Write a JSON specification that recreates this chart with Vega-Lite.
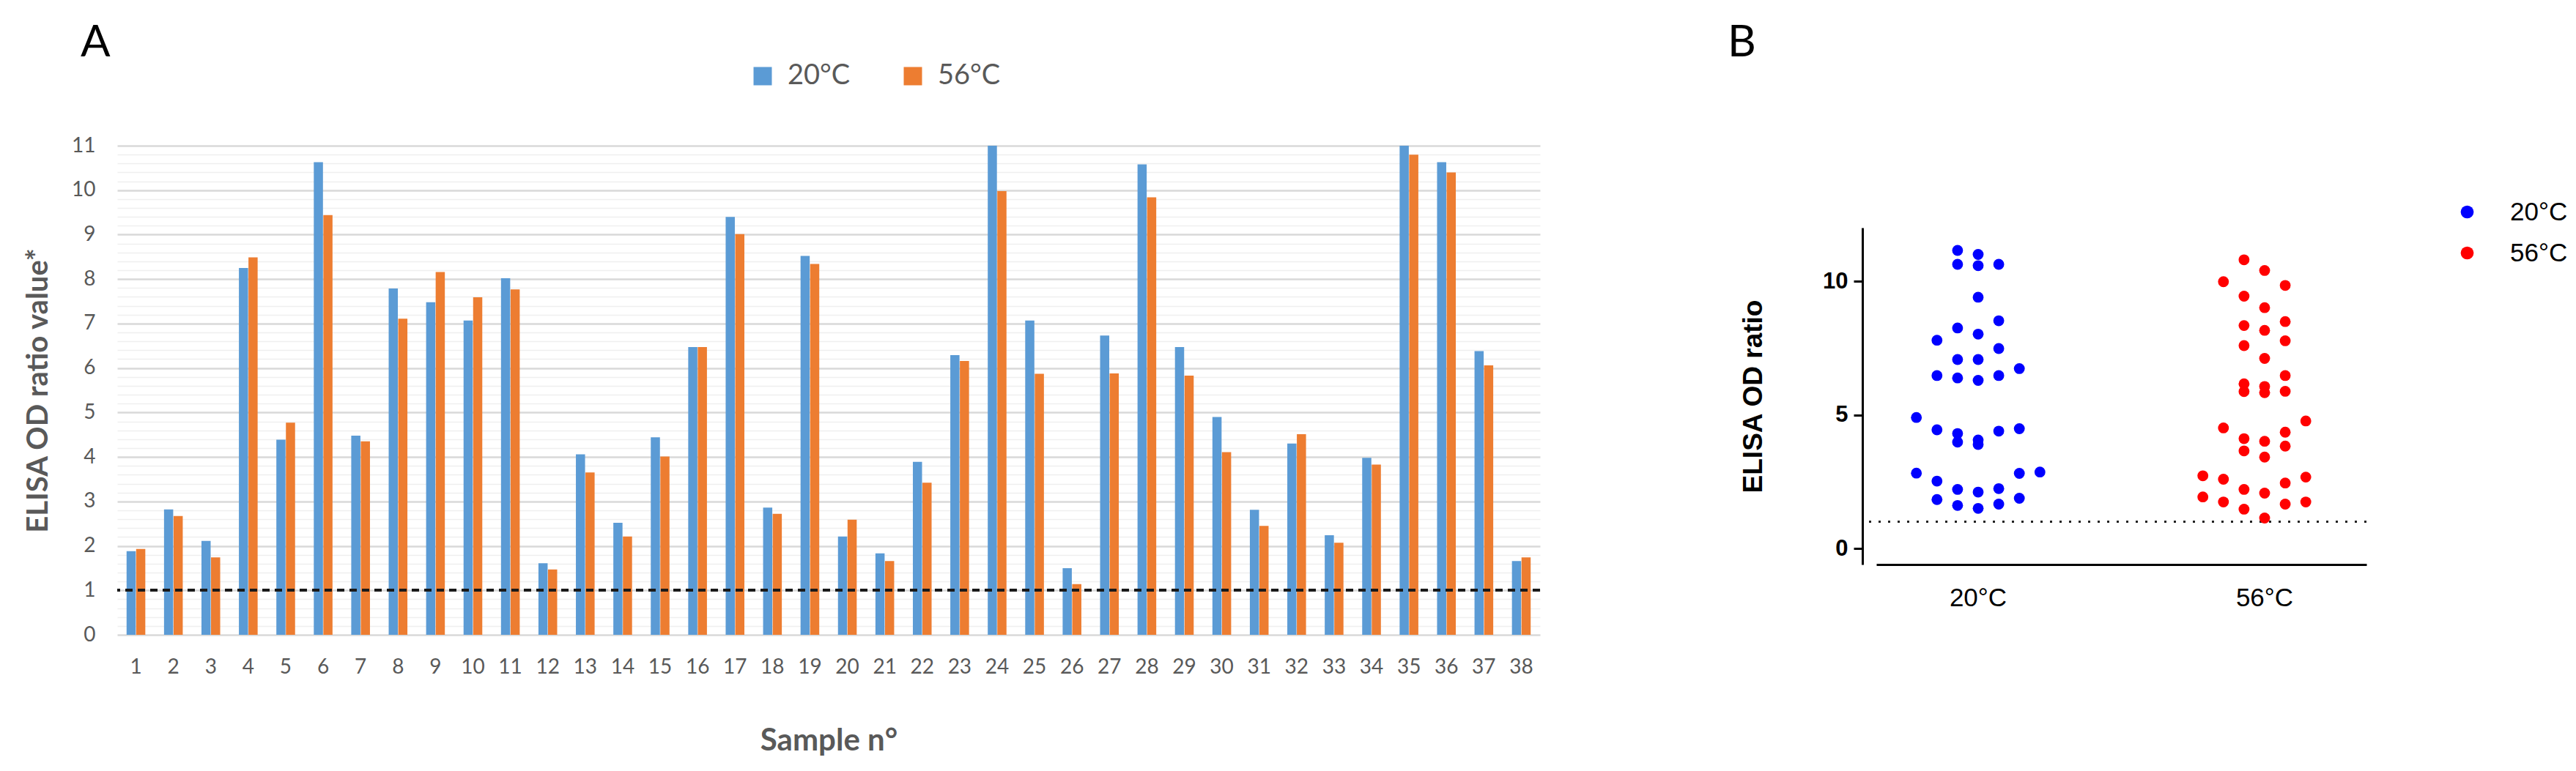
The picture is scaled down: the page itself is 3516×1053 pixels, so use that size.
{
  "$schema": "https://vega.github.io/schema/vega-lite/v6.json",
  "background": "white",
  "padding": {"left": 32, "top": 29, "right": 0, "bottom": 0},
  "spacing": 254,
  "data": {"values": [
    {"sample": 1, "temp": "20°C", "value": 1.88}, {"sample": 1, "temp": "56°C", "value": 1.93},
    {"sample": 2, "temp": "20°C", "value": 2.82}, {"sample": 2, "temp": "56°C", "value": 2.67},
    {"sample": 3, "temp": "20°C", "value": 2.11}, {"sample": 3, "temp": "56°C", "value": 1.74},
    {"sample": 4, "temp": "20°C", "value": 8.25}, {"sample": 4, "temp": "56°C", "value": 8.49},
    {"sample": 5, "temp": "20°C", "value": 4.39}, {"sample": 5, "temp": "56°C", "value": 4.77},
    {"sample": 6, "temp": "20°C", "value": 10.63}, {"sample": 6, "temp": "56°C", "value": 9.44},
    {"sample": 7, "temp": "20°C", "value": 4.48}, {"sample": 7, "temp": "56°C", "value": 4.35},
    {"sample": 8, "temp": "20°C", "value": 7.79}, {"sample": 8, "temp": "56°C", "value": 7.11},
    {"sample": 9, "temp": "20°C", "value": 7.48}, {"sample": 9, "temp": "56°C", "value": 8.16},
    {"sample": 10, "temp": "20°C", "value": 7.07}, {"sample": 10, "temp": "56°C", "value": 7.59},
    {"sample": 11, "temp": "20°C", "value": 8.02}, {"sample": 11, "temp": "56°C", "value": 7.77},
    {"sample": 12, "temp": "20°C", "value": 1.61}, {"sample": 12, "temp": "56°C", "value": 1.47},
    {"sample": 13, "temp": "20°C", "value": 4.06}, {"sample": 13, "temp": "56°C", "value": 3.65},
    {"sample": 14, "temp": "20°C", "value": 2.52}, {"sample": 14, "temp": "56°C", "value": 2.21},
    {"sample": 15, "temp": "20°C", "value": 4.44}, {"sample": 15, "temp": "56°C", "value": 4.01},
    {"sample": 16, "temp": "20°C", "value": 6.47}, {"sample": 16, "temp": "56°C", "value": 6.47},
    {"sample": 17, "temp": "20°C", "value": 9.40}, {"sample": 17, "temp": "56°C", "value": 9.01},
    {"sample": 18, "temp": "20°C", "value": 2.86}, {"sample": 18, "temp": "56°C", "value": 2.72},
    {"sample": 19, "temp": "20°C", "value": 8.52}, {"sample": 19, "temp": "56°C", "value": 8.34},
    {"sample": 20, "temp": "20°C", "value": 2.21}, {"sample": 20, "temp": "56°C", "value": 2.59},
    {"sample": 21, "temp": "20°C", "value": 1.83}, {"sample": 21, "temp": "56°C", "value": 1.66},
    {"sample": 22, "temp": "20°C", "value": 3.89}, {"sample": 22, "temp": "56°C", "value": 3.42},
    {"sample": 23, "temp": "20°C", "value": 6.29}, {"sample": 23, "temp": "56°C", "value": 6.16},
    {"sample": 24, "temp": "20°C", "value": 11.15}, {"sample": 24, "temp": "56°C", "value": 9.98},
    {"sample": 25, "temp": "20°C", "value": 7.07}, {"sample": 25, "temp": "56°C", "value": 5.87},
    {"sample": 26, "temp": "20°C", "value": 1.50}, {"sample": 26, "temp": "56°C", "value": 1.14},
    {"sample": 27, "temp": "20°C", "value": 6.73}, {"sample": 27, "temp": "56°C", "value": 5.88},
    {"sample": 28, "temp": "20°C", "value": 10.58}, {"sample": 28, "temp": "56°C", "value": 9.84},
    {"sample": 29, "temp": "20°C", "value": 6.47}, {"sample": 29, "temp": "56°C", "value": 5.83},
    {"sample": 30, "temp": "20°C", "value": 4.90}, {"sample": 30, "temp": "56°C", "value": 4.11},
    {"sample": 31, "temp": "20°C", "value": 2.81}, {"sample": 31, "temp": "56°C", "value": 2.45},
    {"sample": 32, "temp": "20°C", "value": 4.30}, {"sample": 32, "temp": "56°C", "value": 4.51},
    {"sample": 33, "temp": "20°C", "value": 2.24}, {"sample": 33, "temp": "56°C", "value": 2.07},
    {"sample": 34, "temp": "20°C", "value": 3.98}, {"sample": 34, "temp": "56°C", "value": 3.83},
    {"sample": 35, "temp": "20°C", "value": 11.0}, {"sample": 35, "temp": "56°C", "value": 10.8},
    {"sample": 36, "temp": "20°C", "value": 10.63}, {"sample": 36, "temp": "56°C", "value": 10.4},
    {"sample": 37, "temp": "20°C", "value": 6.38}, {"sample": 37, "temp": "56°C", "value": 6.06},
    {"sample": 38, "temp": "20°C", "value": 1.66}, {"sample": 38, "temp": "56°C", "value": 1.74}
  ]},
  "hconcat": [
    {
      "width": 1942,
      "height": 668,
      "title": {"text": "A", "anchor": "start", "frame": "group", "dx": -50, "offset": -5, "fontSize": 60, "font": "Lato", "fontWeight": "normal", "color": "#000000"},
      "layer": [
        {
          "mark": {"type": "bar", "clip": true},
          "encoding": {
            "x": {"field": "sample", "type": "ordinal", "scale": {"paddingInner": 0.5, "paddingOuter": 0.25},
              "axis": {"title": "Sample n°", "labelAngle": 0, "ticks": false, "domain": false, "grid": false, "labelPadding": 30,
                "labelFont": "Lato", "labelFontSize": 28, "labelColor": "#595959",
                "titleFont": "Lato", "titleFontSize": 42, "titleFontWeight": "bold", "titleColor": "#595959", "titlePadding": 66}},
            "xOffset": {"field": "temp", "type": "nominal", "scale": {"paddingInner": 0.04}},
            "y": {"field": "value", "type": "quantitative", "scale": {"domain": [0, 11], "nice": false},
              "axis": {"title": "ELISA OD ratio value*", "values": [0,1,2,3,4,5,6,7,8,9,10,11], "format": "d",
                "grid": true, "gridColor": "#d9d9d9", "gridWidth": 2.5,
                "ticks": false, "domain": false, "labelPadding": 30,
                "labelFont": "Lato", "labelFontSize": 28, "labelColor": "#595959",
                "titleFont": "Lato", "titleFontSize": 40, "titleFontWeight": "bold", "titleColor": "#595959", "titlePadding": 25}},
            "color": {"field": "temp", "type": "nominal", "scale": {"range": ["#5B9BD5", "#ED7D31"]},
              "legend": {"title": null, "orient": "none", "direction": "horizontal", "legendX": 862, "legendY": -114,
                "symbolType": "square", "symbolSize": 625, "symbolStrokeWidth": 0,
                "labelFont": "Lato", "labelFontSize": 38, "labelColor": "#595959", "labelOffset": 15, "columnPadding": 66}}
          }
        },
        {
          "mark": {"type": "rule", "strokeDash": [10, 7], "strokeWidth": 3, "color": "#1a1a1a"},
          "encoding": {"y": {"datum": 1, "type": "quantitative",
            "axis": {"orient": "right", "title": null, "labels": false, "ticks": false, "domain": false,
              "values": [0.2,0.4,0.6,0.8,1.2,1.4,1.6,1.8,2.2,2.4,2.6,2.8,3.2,3.4,3.6,3.8,4.2,4.4,4.6,4.8,5.2,5.4,5.6,5.8,6.2,6.4,6.6,6.8,7.2,7.4,7.6,7.8,8.2,8.4,8.6,8.8,9.2,9.4,9.6,9.8,10.2,10.4,10.6,10.8],
              "grid": true, "gridColor": "#efefef", "gridWidth": 1.5}}}
        }
      ],
      "resolve": {"axis": {"y": "independent"}}
    },
    {
      "spacing": 0,
      "vconcat": [
        {
          "width": 688,
          "height": 112,
          "title": {"text": "B", "anchor": "start", "frame": "group", "dx": -184, "offset": 109, "fontSize": 60, "font": "Lato", "fontWeight": "normal", "color": "#000000"},
          "data": {"values": []},
          "mark": {"type": "point", "opacity": 0},
          "encoding": {}
        },
        {
          "width": 688,
          "height": 460,
          "transform": [
            {"bin": {"step": 1}, "field": "value", "as": "vbin"},
            {"window": [{"op": "row_number", "as": "slot"}], "groupby": ["temp", "vbin"], "sort": [{"field": "value", "order": "ascending"}]}
          ],
          "layer": [
            {
              "mark": {"type": "rule", "strokeDash": [3, 10], "strokeWidth": 3, "color": "#222222"},
              "encoding": {"y": {"datum": 1}}
            },
            {
              "mark": {"type": "point", "filled": true, "size": 220, "opacity": 1},
              "encoding": {
                "x": {"field": "temp", "type": "nominal", "scale": {"range": [19, 688], "paddingInner": 0.425, "paddingOuter": 0.068},
                  "axis": {"title": null, "labelAngle": 0, "ticks": false, "grid": false, "domainColor": "#000000", "domainWidth": 3,
                    "labelFont": "Liberation Sans", "labelFontSize": 35, "labelColor": "#000000", "labelPadding": 28}},
                "xOffset": {"field": "slot", "type": "ordinal", "scale": {"domain": [8, 6, 4, 2, 1, 3, 5, 7, 9], "paddingInner": 0, "paddingOuter": 0}},
                "y": {"field": "value", "type": "quantitative", "scale": {"domain": [-0.6, 12], "nice": false, "zero": false},
                  "axis": {"title": "ELISA OD ratio", "values": [0, 5, 10], "grid": false,
                    "domainColor": "#000000", "domainWidth": 3, "tickColor": "#000000", "tickWidth": 3, "tickSize": 12,
                    "labelFont": "Liberation Sans", "labelFontSize": 31, "labelFontWeight": "bold", "labelColor": "#000000", "labelPadding": 8,
                    "titleFont": "Liberation Sans", "titleFontSize": 37, "titleFontWeight": "bold", "titleColor": "#000000", "titlePadding": 75}},
                "color": {"field": "temp", "type": "nominal", "scale": {"range": ["#0000FF", "#FF0000"]},
                  "legend": {"title": null, "orient": "none", "legendX": 808, "legendY": 73,
                    "symbolType": "circle", "symbolSize": 314, "symbolStrokeWidth": 0,
                    "labelFont": "Liberation Sans", "labelFontSize": 35, "labelColor": "#000000", "labelOffset": 41, "rowPadding": 20}}
              }
            }
          ]
        }
      ]
    }
  ],
  "resolve": {"scale": {"color": "independent", "x": "independent", "y": "independent", "xOffset": "independent"}, "legend": {"color": "independent"}},
  "config": {"view": {"stroke": null}}
}
